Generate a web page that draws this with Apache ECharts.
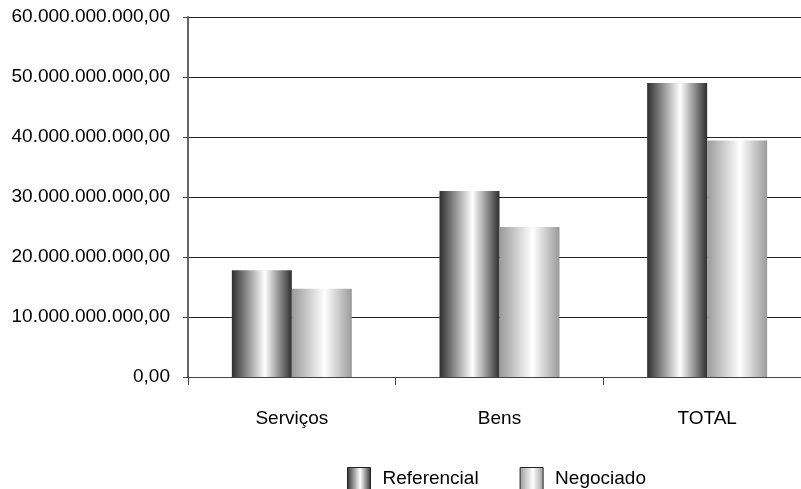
<!DOCTYPE html>
<html>
<head>
<meta charset="utf-8">
<script src="https://cdn.jsdelivr.net/npm/echarts@6/dist/echarts.min.js"></script>
<style>
html,body{margin:0;padding:0;background:#fff;}
#chart{width:801px;height:489px;}
</style>
</head>
<body>
<div id="chart"></div>
<script>
// categorias e valores (R$)
var categorias = ['Serviços', 'Bens', 'TOTAL'];
var referencial = [17800000000, 31000000000, 49000000000];
var negociado = [14700000000, 25000000000, 39400000000];
var serieNomes = ['Referencial', 'Negociado'];

function fmtBR(v) {
	var s = Math.round(v).toString().replace(/\B(?=(\d{3})+(?!\d))/g, '.');
	return s + ',00';
}

function barGrad(edge, mid) {
	return new echarts.graphic.LinearGradient(0, 0, 1, 0, [
		{offset: 0, color: edge},
		{offset: 0.55, color: mid},
		{offset: 1, color: edge}
	]);
}

var chart = echarts.init(document.getElementById('chart'));
var option = {
	animation: false,
	backgroundColor: '#fff',
	textStyle: {fontFamily: '"Liberation Sans", Arial, sans-serif'},
	grid: {left: 188, top: 17, width: 623, height: 360, outerBoundsMode: 'none'},
	legend: {
		bottom: -1,
		left: 347,
		padding: 0,
		icon: 'rect',
		itemWidth: 23,
		itemHeight: 22,
		itemGap: 41,
		itemStyle: {borderColor: '#222', borderWidth: 1},
		textStyle: {fontSize: 19, color: '#000', padding: [0, 0, 0, 7]},
		data: serieNomes
	},
	xAxis: {
		type: 'category',
		data: categorias,
		axisLine: {lineStyle: {color: '#444', width: 1}},
		axisTick: {show: true, length: 8, lineStyle: {color: '#444'}},
		axisLabel: {color: '#000', fontSize: 19, margin: 32}
	},
	yAxis: {
		type: 'value',
		min: 0,
		max: 60000000000,
		interval: 10000000000,
		axisLine: {show: true, lineStyle: {color: '#666', width: 2}},
		axisTick: {show: true, length: 5, lineStyle: {color: '#444'}},
		axisLabel: {color: '#000', fontSize: 19, margin: 18, formatter: fmtBR},
		splitLine: {lineStyle: {color: '#222', width: 1}}
	},
	series: [
		{
			name: serieNomes[0],
			type: 'bar',
			barWidth: 60,
			barGap: '0%',
			data: referencial,
			itemStyle: {color: barGrad('#2e2e2e', '#ffffff')}
		},
		{
			name: serieNomes[1],
			type: 'bar',
			barWidth: 60,
			data: negociado,
			itemStyle: {color: barGrad('#9a9a9a', '#ffffff')}
		}
	]
};
chart.setOption(option);
</script>
</body>
</html>
